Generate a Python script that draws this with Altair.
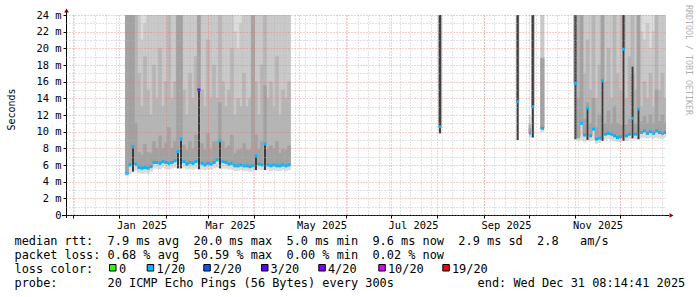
import altair as alt
import pandas as pd

# ---------------- data ----------------
graph_start = "2024-11-26T08:14:41Z"
graph_end = "2025-12-31T08:14:41Z"

loss_levels = ["0", "1/20", "2/20", "3/20", "4/20", "10/20", "19/20"]
loss_colors = ["#26ff00", "#00b8ff", "#0059ff", "#5e00ff", "#7e00ff", "#dd00ff", "#ff0000"]

# Jan - Apr 2025, 2-day steps starting 2025-01-05 (values in ms)
jan_first = "2025-01-05T00:00:00Z"
jan_med = [5.0, 6.0, 8.2, 6.1, 5.7, 5.6, 5.7, 5.6, 5.8, 6.3,
           6.3, 6.2, 6.4, 6.3, 6.2, 6.3, 6.5, 7.6, 9.1, 6.4,
           6.1, 6.3, 6.2, 6.4, 15.0, 6.2, 6.0, 6.2, 6.1, 6.3,
           6.6, 8.9, 6.4, 6.3, 6.1, 6.2, 5.9, 5.9, 6.0, 5.9,
           5.9, 5.8, 5.9, 7.1, 6.1, 6.0, 8.5, 6.0, 5.9, 6.0,
           5.9, 5.9, 6.0, 5.9, 6.0]
jan_min = [4.7, 5.0, 5.2, 5.3, 5.1, 5.0, 5.1, 5.0, 5.2, 5.6,
           5.6, 5.5, 5.7, 5.6, 5.5, 5.6, 5.7, 5.6, 5.6, 5.7,
           5.5, 5.6, 5.5, 5.6, 5.5, 5.5, 5.4, 5.5, 5.5, 5.6,
           5.7, 5.6, 5.6, 5.6, 5.5, 5.5, 5.3, 5.3, 5.4, 5.3,
           5.3, 5.2, 5.3, 5.4, 5.5, 5.4, 5.4, 5.4, 5.3, 5.4,
           5.3, 5.3, 5.4, 5.3, 5.4]
jan_max = [42, 38, 45, 36, 33, 31, 35, 30, 29, 34,
           37, 32, 30, 36, 41, 33, 35, 47, 44, 31,
           29, 34, 30, 38, 52, 33, 30, 36, 31, 35,
           32, 43, 34, 30, 31, 37, 29, 33, 30, 35,
           31, 30, 46, 36, 29, 34, 44, 31, 33, 30,
           35, 29, 31, 30, 33]
jan_p95 = [40, 36, 42, 34, 26, 21, 23, 30, 27, 31,
           33, 29, 25, 32, 35, 28, 31, 44, 41, 27,
           25, 30, 26, 34, 48, 29, 27, 32, 26, 30,
           28, 39, 30, 25, 27, 33, 22, 20, 23, 31,
           27, 26, 42, 32, 25, 30, 40, 27, 29, 26,
           31, 24.5, 27, 26, 29]
jan_p80 = [40, 36, 42, 30, 17, 13, 19, 15, 12, 18,
           14, 20, 13, 16, 24.5, 14, 16, 44, 41, 15,
           12, 17, 14, 19, 48, 15, 13, 21, 14, 18,
           14, 39, 16, 13, 15, 20, 12, 14, 13, 17,
           13, 14, 42, 16, 12, 18, 40, 14, 16, 13,
           19, 12, 15, 14, 16]
jan_p60 = [40, 36, 42, 11, 7.5, 7.2, 8.5, 7.5, 7.4, 8.8,
           8.0, 9.5, 8.0, 8.6, 10.5, 8.0, 8.8, 44, 41, 8.4,
           7.8, 8.8, 7.9, 9.6, 48, 8.6, 7.8, 9.8, 7.9, 8.8,
           8.8, 13.5, 8.8, 8.0, 8.3, 9.6, 7.4, 7.8, 7.9, 8.6,
           7.8, 7.8, 42, 9.6, 7.9, 8.8, 15.5, 7.9, 8.3, 7.9,
           8.8, 7.4, 7.9, 7.8, 8.3]
jan_dense = [0, 0, 8.2, 0, 0, 0, 0, 0, 0, 0,
             0, 0, 0, 0, 0, 0, 0, 7.6, 9.1, 0,
             0, 0, 0, 0, 15.0, 0, 0, 0, 0, 0,
             0, 8.9, 0, 0, 0, 0, 0, 0, 0, 0,
             0, 0, 0, 7.1, 0, 0, 8.5, 0, 0, 0,
             0, 0, 0, 0, 0]
jan_loss = ["1/20"] * 24 + ["3/20"] + ["1/20"] * 30

# Oct - Dec 2025, 2-day steps starting 2025-10-31
nov_first = "2025-10-31T00:00:00Z"
nov_med = [15.8, 9.4, 11.0, 9.6, 12.8, 9.5, 10.3, 9.1, 9.2, 16.1,
           9.7, 9.8, 9.7, 9.5, 9.3, 9.4, 19.9, 9.5, 9.7, 11.6,
           9.7, 12.7, 9.9, 10.1, 9.8, 10.0, 9.8, 10.1, 9.9, 9.8, 9.9]
nov_min = [9.1, 8.9, 9.0, 8.8, 9.0, 8.9, 9.0, 8.6, 8.7, 8.9,
           9.1, 9.2, 9.0, 8.9, 8.8, 8.8, 8.9, 8.9, 9.1, 9.2,
           9.1, 9.1, 9.3, 9.3, 9.2, 9.3, 9.2, 9.3, 9.2, 9.2, 9.3]
nov_max = [46, 40, 43, 35, 38, 33, 41, 31, 34, 47,
           33, 36, 32, 35, 31, 30, 55, 32, 35, 44,
           33, 45, 31, 34, 30, 33, 31, 39, 32, 34, 31]
nov_p95 = [44, 37, 40, 31, 33, 29, 36, 27, 30, 42,
           29, 32, 28, 31, 27, 27, 50, 28, 31, 40,
           30, 41, 22, 21, 23, 20, 22, 35, 26, 29, 27]
nov_p80 = [44, 37, 40, 17, 21, 15, 36, 14, 18, 42,
           16, 20, 14, 24.5, 17, 15, 50, 14, 19, 40,
           15, 41, 13, 16, 14, 17, 13, 35, 15, 17, 14]
nov_p60 = [44, 14, 40, 11.5, 13.5, 11, 14, 10.5, 12, 42,
           11, 12.5, 11, 13, 11, 10.8, 50, 10.8, 11.5, 17,
           11, 41, 11.2, 11.8, 11, 12, 11, 15, 11.2, 12, 11]
nov_dense = [40, 0, 0, 0, 12.8, 0, 0, 0, 0, 16.1,
             0, 0, 0, 0, 0, 0, 55, 0, 0, 17.8,
             0, 12.7, 0, 0, 0, 0, 0, 0, 0, 0, 0]
nov_loss = ["1/20", "0"] + ["1/20"] * 29

# isolated measurements, Aug - Oct 2025
iso_start = ["2025-08-01T19:00:00Z", "2025-09-22T19:00:00Z", "2025-10-01T00:00:00Z",
             "2025-10-02T18:00:00Z", "2025-10-08T19:00:00Z"]
iso_end = ["2025-08-03T12:00:00Z", "2025-09-24T03:00:00Z", "2025-10-02T03:00:00Z",
           "2025-10-04T08:00:00Z", "2025-10-11T00:00:00Z"]
iso_med = [10.6, 13.6, 9.8, 13.0, 10.4]
iso_min = [9.8, 9.0, 9.3, 9.3, 10.0]
iso_max = [42, 48, 12, 45, 36]
iso_p95 = [40, 45, 11, 42, 33]
iso_p80 = [40, 45, 10.8, 42, 18.8]
iso_p60 = [40, 45, 10.4, 42, 18.8]
iso_dense = [40, 45, 0, 42, 0]
iso_loss = ["1/20", "1/20", "1/20", "1/20", "1/20"]

stat_lines = [
    "median rtt:  7.9 ms avg  20.0 ms max  5.0 ms min  9.6 ms now  2.9 ms sd  2.8   am/s",
    "packet loss: 0.68 % avg  50.59 % max  0.00 % min  0.02 % now",
    "loss color:",
    "probe:       20 ICMP Echo Pings (56 Bytes) every 300s",
]
end_text = "end: Wed Dec 31 08:14:41 2025"

# ---------------- build table ----------------
def iso(ts):
    return ts.strftime("%Y-%m-%dT%H:%M:%SZ")

rows = []

def add(starts, ends, mn, md, mx, p95, p80, p60, dense, loss):
    for i in range(len(md)):
        a, b = pd.Timestamp(starts[i]), pd.Timestamp(ends[i])
        rows.append(dict(t=iso(a), t2=iso(b), tc=iso(a + (b - a) / 2), lo=mn[i], med=md[i],
                         top=mx[i], p95=p95[i], p80=p80[i], p60=p60[i], dense=dense[i],
                         loss=loss[i]))

def steps(first, n, days=2):
    t0 = pd.Timestamp(first)
    s = [iso(t0 + pd.Timedelta(days=days * i)) for i in range(n)]
    e = [iso(t0 + pd.Timedelta(days=days * (i + 1))) for i in range(n)]
    return s, e

s, e = steps(jan_first, len(jan_med))
add(s, e, jan_min, jan_med, jan_max, jan_p95, jan_p80, jan_p60, jan_dense, jan_loss)
s, e = steps(nov_first, len(nov_med))
add(s, e, nov_min, nov_med, nov_max, nov_p95, nov_p80, nov_p60, nov_dense, nov_loss)
add(iso_start, iso_end, iso_min, iso_med, iso_max, iso_p95, iso_p80, iso_p60, iso_dense, iso_loss)
df = pd.DataFrame(rows)

# ---------------- layout ----------------
LEFT, TOP, W, H = 66, 15, 600, 200
MONO = "DejaVu Sans Mono"

def ms(ts):
    return int(pd.Timestamp(ts).value // 10**6)

xs = alt.Scale(type="utc", domain=[ms(graph_start), ms(graph_end)])
ys = alt.Scale(domain=[0, 24], nice=False, zero=True)

month_ticks = [ms(t) for t in pd.date_range("2024-12-01", "2025-12-01", freq="MS", tz="UTC")]
week_ticks = [ms(t) for t in pd.date_range("2024-11-25", "2025-12-31", freq="W-MON", tz="UTC")]

GRID_MINOR = dict(grid=True, gridColor="#b4b4b4", gridDash=[1, 2], gridOpacity=0.75, gridWidth=1)
GRID_MAJOR = dict(grid=True, gridColor="#f07070", gridDash=[1, 2], gridOpacity=0.7, gridWidth=1)

minor_x = alt.Axis(values=week_ticks, labels=False, ticks=False, domain=False, title=None,
                   zindex=1, orient="bottom", **GRID_MINOR)
minor_y = alt.Axis(values=list(range(1, 24, 2)), labels=False, ticks=False, domain=False,
                   title=None, zindex=1, orient="left", **GRID_MINOR)
major_x = alt.Axis(values=month_ticks, ticks=True, tickSize=3, tickColor="#000000", domain=False,
                   labelExpr="utcmonth(datum.value) % 2 == 0 ? utcFormat(datum.value, '%b %Y') : ''",
                   labelOffset=22, labelFlush=False, labelOverlap=False, labelBound=False,
                   labelFont=MONO, labelFontSize=10.4, labelColor="#000000", labelPadding=2,
                   labelBaseline="top", title=None, zindex=1, orient="bottom", **GRID_MAJOR)
major_y = alt.Axis(values=list(range(0, 25, 2)), ticks=True, tickSize=3, tickColor="#000000",
                   domain=False,
                   labelExpr="datum.value == 0 ? '0\u00a0' : datum.value + ' m'",
                   labelFont=MONO, labelFontSize=10.4, labelColor="#000000", labelPadding=2,
                   title="Seconds", titleFont=MONO, titleFontSize=10, titleFontWeight="normal",
                   titleColor="#000000", titleAngle=270, titleX=11 - LEFT, titleY=109 - TOP,
                   titleAlign="center", titleBaseline="middle",
                   zindex=1, orient="left", **GRID_MAJOR)

base = alt.Chart(df)

def band(color, lo, hi, axes=False):
    if axes:
        xenc = alt.X("t:T", scale=xs, axis=minor_x)
        yenc = alt.Y(f"{lo}:Q", scale=ys, axis=minor_y)
    else:
        xenc = alt.X("t:T", scale=xs, axis=None)
        yenc = alt.Y(f"{lo}:Q", scale=ys, axis=None)
    return base.mark_rect(color=color, stroke=color, strokeWidth=0.6, clip=True).encode(
        x=xenc, x2="t2:T", y=yenc, y2=f"{hi}:Q")

smoke = [
    band("#dcdcdc", "lo", "top", axes=True),
    band("#c9c9c9", "med", "p95"),
    band("#b6b6b6", "med", "p80"),
    band("#a2a2a2", "med", "p60"),
]

dense = base.transform_filter("datum.dense > 0").mark_rule(
    color="#3c3c3c", strokeWidth=2, clip=True).encode(
    x=alt.X("tc:T", scale=xs, axis=None),
    y=alt.Y("lo:Q", scale=ys, axis=None),
    y2="dense:Q",
)

median = base.mark_rule(strokeWidth=3, strokeCap="butt", clip=True).encode(
    x=alt.X("t:T", scale=xs, axis=major_x),
    x2="t2:T",
    y=alt.Y("med:Q", scale=ys, axis=major_y),
    color=alt.Color("loss:N", scale=alt.Scale(domain=loss_levels, range=loss_colors), legend=None),
)

one = pd.DataFrame({"k": [0]})

def txt(text, x, y, size=11.9, color="#000000", angle=0, align="left", baseline="alphabetic"):
    return alt.Chart(one).mark_text(text=text, font=MONO, fontSize=size, color=color, angle=angle,
                                    align=align, baseline=baseline).encode(
        x=alt.value(x - LEFT), y=alt.value(y - TOP))

def hline(x1, x2, y, color="#000000"):
    return alt.Chart(one).mark_rule(color=color, strokeWidth=1).encode(
        x=alt.value(x1 - LEFT), x2=alt.value(x2 - LEFT), y=alt.value(y - TOP))

def vline(x, y1, y2, color="#000000"):
    return alt.Chart(one).mark_rule(color=color, strokeWidth=1).encode(
        x=alt.value(x - LEFT), y=alt.value(y1 - TOP), y2=alt.value(y2 - TOP))

def arrow(shape, x, y):
    return alt.Chart(one).mark_point(shape=shape, filled=True, size=22, color="#8b0000", opacity=1).encode(
        x=alt.value(x - LEFT), y=alt.value(y - TOP))

decor = [
    hline(62, 669, 215.5),
    vline(66.5, 11, 218),
    arrow("triangle-right", 671.5, 215.5),
    arrow("triangle-up", 66.5, 10.5),
    txt("RRDTOOL / TOBI OETIKER", 687.5, 60, size=8.3, color="#b0b0b0", angle=90,
        align="center", baseline="middle"),
]

nb = lambda s_: s_.replace(" ", "\u00a0")
row_y = [244.5, 258.8, 272.6, 287.0]
for i, line in enumerate(stat_lines):
    decor.append(txt(nb(line), 14.5, row_y[i]))
decor.append(txt(nb(end_text), 477.6, row_y[3]))

sw_x = [109, 146.7, 203.3, 261, 318.3, 378.3, 442.3]
lab_x = [119.0, 156.6, 212.9, 270.6, 327.9, 387.9, 451.9]
for i in range(len(loss_levels)):
    decor.append(alt.Chart(one).mark_rect(fill=loss_colors[i], stroke="#000000", strokeWidth=1).encode(
        x=alt.value(sw_x[i] + 0.5 - LEFT), x2=alt.value(sw_x[i] + 7 - LEFT),
        y=alt.value(264.5 - TOP), y2=alt.value(271 - TOP)))
    decor.append(txt(loss_levels[i], lab_x[i], row_y[2]))

chart = alt.layer(*smoke, dense, median, *decor).resolve_axis(x="independent", y="independent").properties(
    width=W, height=H, autosize="none",
    padding={"left": LEFT, "top": TOP, "right": 697 - LEFT - W, "bottom": 297 - TOP - H},
    background="#ffffff",
).configure_view(stroke=None)

chart.save("out.html", embed_options={"renderer": "svg", "actions": False})
